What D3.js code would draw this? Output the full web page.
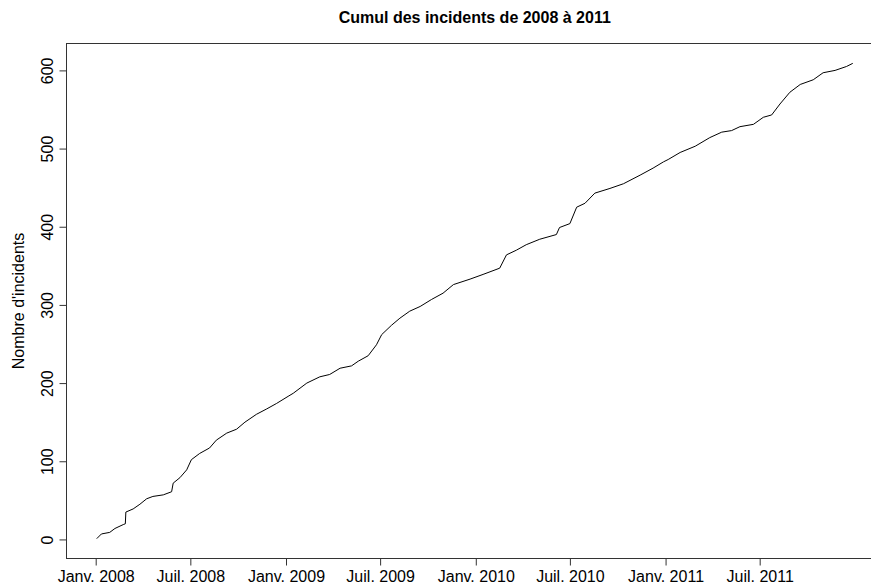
<!DOCTYPE html>
<html>
<head>
<meta charset="utf-8" />
<title>Cumul des incidents</title>
<script src="https://cdnjs.cloudflare.com/ajax/libs/d3/7.8.5/d3.min.js"></script>
<style>
body{
    margin:0;
    background:white;
}
svg text{
    font-family:"Liberation Sans", Arial, sans-serif;
    fill:black;
}
.titre{
    font-size:16px;
    font-weight:bold;
}
.graduation{
    font-size:16px;
}
</style>
</head>
<body>
<div id="graphe"></div>
<script>

// données
var dates = [
 "2008-01-03","2008-01-12","2008-01-28","2008-02-07","2008-02-23","2008-02-27","2008-02-28",
 "2008-03-13","2008-03-26","2008-04-08","2008-04-20","2008-05-10","2008-05-26","2008-05-29",
 "2008-06-11","2008-06-24","2008-07-03","2008-07-19","2008-08-07","2008-08-20","2008-09-09",
 "2008-09-28","2008-10-14","2008-11-05","2008-11-25","2008-12-14","2009-01-05","2009-01-15",
 "2009-02-10","2009-03-07","2009-03-26","2009-04-15","2009-05-07","2009-05-20","2009-06-08",
 "2009-06-24","2009-07-04","2009-07-23","2009-08-08","2009-08-27","2009-09-16","2009-10-08",
 "2009-10-30","2009-11-19","2009-12-21","2010-01-15","2010-02-16","2010-03-01","2010-03-20",
 "2010-04-08","2010-05-04","2010-06-05","2010-06-11","2010-07-01","2010-07-14","2010-07-30",
 "2010-08-18","2010-09-16","2010-10-12","2010-11-13","2010-12-08","2010-12-28","2011-01-06",
 "2011-01-29","2011-02-27","2011-03-27","2011-04-19","2011-05-08","2011-05-24","2011-06-19",
 "2011-07-08","2011-07-24","2011-08-09","2011-08-28","2011-09-17","2011-10-12","2011-10-31",
 "2011-11-23","2011-12-15","2011-12-27"
];
var cumul = [
 1, 7, 9, 14, 19, 20, 35,
 39, 45, 52, 55, 57, 61, 72,
 79, 89, 102, 110, 117, 127, 136,
 141, 150, 160, 167, 174, 183, 187,
 200, 208, 211, 219, 222, 228, 235,
 249, 262, 274, 283, 292, 298, 307,
 315, 326, 333, 339, 347, 364, 370,
 377, 384, 390, 399, 404, 425, 430,
 443, 449, 455, 466, 475, 483, 486,
 495, 503, 514, 521, 523, 528, 531,
 540, 543, 557, 572, 582, 588, 597,
 600, 605, 609
];
var graduationsY = [0, 100, 200, 300, 400, 500, 600];
var graduationsX = ["2008-01-01","2008-07-01","2009-01-01","2009-07-01",
                    "2010-01-01","2010-07-01","2011-01-01","2011-07-01"];
var libellesX = ["Janv. 2008","Juil. 2008","Janv. 2009","Juil. 2009",
                 "Janv. 2010","Juil. 2010","Janv. 2011","Juil. 2011"];

var largeur = 871, hauteur = 584;
var zone = {gauche: 66.5, droite: 883, haut: 43.5, bas: 558.5};

var lireDate = d3.timeParse("%Y-%m-%d");
var donnees = dates.map(function(d, i){
    return {date: lireDate(d), valeur: cumul[i]};
});

// étendue à la manière de R (4 % de chaque côté)
var d0 = donnees[0].date.getTime(), d1 = donnees[donnees.length-1].date.getTime();
var ex = (d1 - d0) * 0.04;
var x = d3.scaleTime()
    .domain([new Date(d0 - ex), new Date(d1 + ex)])
    .range([zone.gauche, zone.droite]);

var ey = 610 * 0.04;
var y = d3.scaleLinear()
    .domain([0 - ey, 610 + ey])
    .range([zone.bas, zone.haut]);

var svg = d3.select("#graphe").append("svg")
    .attr("width", largeur)
    .attr("height", hauteur);

// courbe
var ligne = d3.line()
    .x(function(d){ return x(d.date); })
    .y(function(d){ return y(d.valeur); });

svg.append("path")
    .datum(donnees)
    .attr("d", ligne)
    .attr("fill", "none")
    .attr("stroke", "black")
    .attr("stroke-width", 1);

// cadre
svg.append("rect")
    .attr("x", zone.gauche)
    .attr("y", zone.haut)
    .attr("width", zone.droite - zone.gauche)
    .attr("height", zone.bas - zone.haut)
    .attr("fill", "none")
    .attr("stroke", "#333")
    .attr("stroke-width", 1);

// axe X
var axeX = d3.axisBottom(x)
    .tickValues(graduationsX.map(lireDate))
    .tickFormat(function(d, i){ return libellesX[i]; })
    .tickSize(7)
    .tickPadding(5);

var gx = svg.append("g")
    .attr("transform", "translate(0," + zone.bas + ")")
    .call(axeX);
gx.select(".domain").remove();
gx.selectAll("line").attr("stroke", "#333");
gx.selectAll("text")
    .attr("class", "graduation")
    .attr("font-size", null)
    .attr("font-family", null)
    .attr("dy", "0.71em");

// axe Y
var axeY = d3.axisLeft(y)
    .tickValues(graduationsY)
    .tickSize(7)
    .tickPadding(0);

var gy = svg.append("g")
    .attr("transform", "translate(" + zone.gauche + ",0)")
    .call(axeY);
gy.select(".domain").remove();
gy.selectAll("line").attr("stroke", "#333");
gy.selectAll("text")
    .attr("class", "graduation")
    .attr("font-size", null)
    .attr("font-family", null)
    .attr("x", null)
    .attr("dy", null)
    .attr("text-anchor", "middle")
    .attr("transform", "translate(-14,0) rotate(-90)");

// titres
svg.append("text")
    .attr("class", "titre")
    .attr("x", (zone.gauche + zone.droite) / 2)
    .attr("y", 23)
    .attr("text-anchor", "middle")
    .text("Cumul des incidents de 2008 à 2011");

svg.append("text")
    .attr("class", "graduation")
    .attr("transform", "translate(24," + ((zone.haut + zone.bas) / 2) + ") rotate(-90)")
    .attr("text-anchor", "middle")
    .text("Nombre d'incidents");

</script>
</body>
</html>
